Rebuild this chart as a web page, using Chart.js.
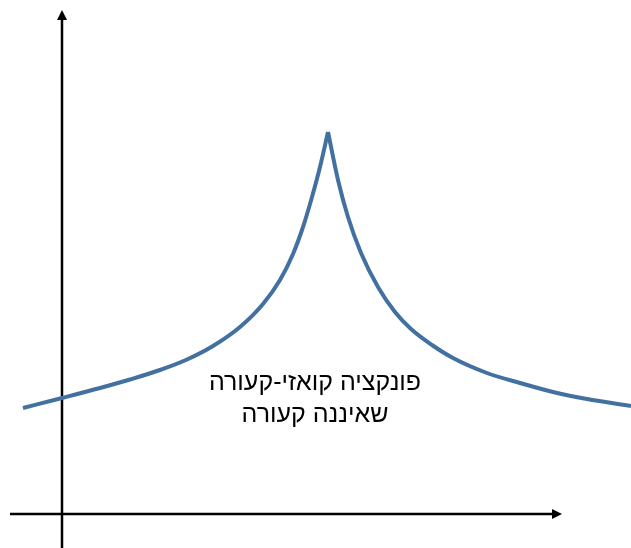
<!DOCTYPE html>
<html lang="he">

<head>
    <meta charset="UTF-8">
    <script src="https://cdn.jsdelivr.net/npm/chart.js"></script>
    <title>quasi-concave</title>
    <style>
        html, body { margin: 0; padding: 0; background: #fff; }
        #wrap { width: 631px; height: 548px; }
    </style>
</head>

<body>
    <div id="wrap"><canvas id="curveChart"></canvas></div>

    <script>
        // left branch, rising up to the peak
        const leftX = [-0.39, 0, 0.38, 0.68, 0.98, 1.25, 1.51, 1.78, 2.01, 2.18, 2.31, 2.41, 2.50, 2.58, 2.66];
        const leftY = [1.06, 1.16, 1.26, 1.345, 1.44, 1.545, 1.68, 1.87, 2.10, 2.34, 2.60, 2.87, 3.17, 3.47, 3.82];
        // right branch, falling off after the peak
        const rightX = [2.66, 2.76, 2.86, 2.99, 3.16, 3.33, 3.49, 3.70, 3.91, 4.25, 4.58, 4.91, 5.25, 5.69];
        const rightY = [3.82, 3.34, 2.97, 2.61, 2.27, 2.02, 1.85, 1.69, 1.56, 1.41, 1.31, 1.22, 1.15, 1.08];

        // visible window and axis extents
        const xRange = [-0.62, 5.69];
        const yRange = [-0.34, 5.14];
        const xAxisSpan = [-0.52, 5.0];
        const yAxisSpan = [-0.4, 5.04];

        const captionLines = ['פונקציה קואזי-קעורה', 'שאיננה קעורה'];
        const captionPos = [2.53, 1.31];

        const toPoints = (xs, ys) => xs.map((x, i) => ({ x: x, y: ys[i] }));

        // axes with arrow heads + caption
        const axesPlugin = {
            id: 'axesArrows',
            beforeDatasetsDraw(chart) {
                const c = chart.ctx;
                const sx = chart.scales.x, sy = chart.scales.y;
                const ox = sx.getPixelForValue(0), oy = sy.getPixelForValue(0);
                c.save();
                c.strokeStyle = '#000';
                c.fillStyle = '#000';
                c.lineWidth = 2.5;

                // x axis
                const x0 = sx.getPixelForValue(xAxisSpan[0]), x1 = sx.getPixelForValue(xAxisSpan[1]);
                c.beginPath();
                c.moveTo(x0, oy);
                c.lineTo(x1 - 6, oy);
                c.stroke();
                c.beginPath();
                c.moveTo(x1, oy);
                c.lineTo(x1 - 10, oy - 5);
                c.lineTo(x1 - 10, oy + 5);
                c.closePath();
                c.fill();

                // y axis
                const y0 = sy.getPixelForValue(yAxisSpan[0]), y1 = sy.getPixelForValue(yAxisSpan[1]);
                c.beginPath();
                c.moveTo(ox, y0);
                c.lineTo(ox, y1 + 6);
                c.stroke();
                c.beginPath();
                c.moveTo(ox, y1);
                c.lineTo(ox - 5, y1 + 10);
                c.lineTo(ox + 5, y1 + 10);
                c.closePath();
                c.fill();
                c.restore();
            },
            afterDatasetsDraw(chart) {
                const c = chart.ctx;
                const cx = chart.scales.x.getPixelForValue(captionPos[0]);
                const cy = chart.scales.y.getPixelForValue(captionPos[1]);
                c.save();
                c.direction = 'rtl';
                c.textAlign = 'center';
                c.textBaseline = 'middle';
                c.fillStyle = '#000';
                c.font = '25px "Liberation Sans", "DejaVu Sans", sans-serif';
                captionLines.forEach((line, i) => c.fillText(line, cx, cy + i * 32));
                c.restore();
            }
        };

        const ctx = document.getElementById('curveChart').getContext('2d');
        new Chart(ctx, {
            type: 'line',
            data: {
                datasets: [
                    { data: toPoints(leftX, leftY) },
                    { data: toPoints(rightX, rightY) }
                ]
            },
            options: {
                responsive: true,
                maintainAspectRatio: false,
                animation: false,
                layout: { padding: 0 },
                elements: {
                    line: {
                        borderColor: '#4271A1',
                        borderWidth: 4,
                        cubicInterpolationMode: 'monotone',
                        borderCapStyle: 'butt',
                        borderJoinStyle: 'miter'
                    },
                    point: { radius: 0 }
                },
                scales: {
                    x: { type: 'linear', min: xRange[0], max: xRange[1], display: false },
                    y: { type: 'linear', min: yRange[0], max: yRange[1], display: false }
                },
                plugins: {
                    legend: { display: false },
                    tooltip: { enabled: false }
                }
            },
            plugins: [axesPlugin]
        });
    </script>
</body>

</html>
